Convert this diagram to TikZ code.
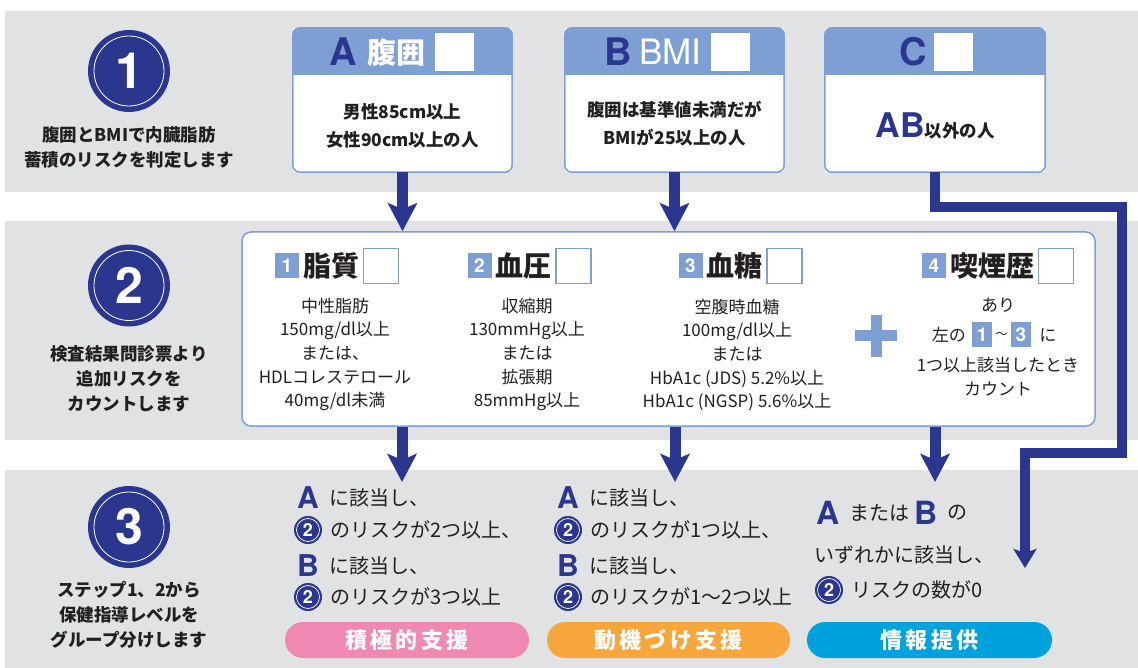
\documentclass[tikz,border=0pt]{standalone}
\usepackage{fontspec}
\setmainfont{Noto Sans CJK JP}
\newfontfamily\latfont{TeX Gyre Heros}
\usetikzlibrary{positioning,arrows.meta,calc}

\definecolor{navy}{HTML}{2B378F}
\definecolor{hdr}{HTML}{7E9FD4}
\definecolor{band}{HTML}{E1E2E4}
\definecolor{ink}{HTML}{231F20}
\definecolor{pinkbtn}{HTML}{F088B4}
\definecolor{orangebtn}{HTML}{F7A63C}
\definecolor{cyanbtn}{HTML}{00A2DE}

\begin{document}
\begin{tikzpicture}[
    x=1pt, y=-1pt,
    stepdot/.style={circle, fill=navy, minimum size=82pt, inner sep=0pt, text=white,
      font=\latfont\bfseries\fontsize{50}{50}\selectfont,
      path picture={\draw[white, line width=0.8pt] (path picture bounding box.center) circle (35pt);}},
    steptext/.style={align=center, inner sep=0pt, text=ink, font=\bfseries\fontsize{17.5}{25}\selectfont},
    card/.style={fill=white, minimum width=219pt, minimum height=144pt, inner sep=0pt},
    hdrletter/.style={inner sep=0pt, text=navy, font=\latfont\bfseries\fontsize{38}{38}\selectfont},
    hdrtext/.style={inner sep=0pt, text=white, font=\bfseries\fontsize{29}{29}\selectfont},
    hdrblank/.style={fill=white, minimum width=39pt, minimum height=38pt, inner sep=0pt},
    cardtext/.style={align=center, inner sep=0pt, text=ink, font=\bfseries\fontsize{17.5}{28}\selectfont},
    riskbox/.style={draw=hdr, line width=1.5pt, fill=white, rounded corners=9pt,
      minimum width=853pt, minimum height=194pt},
    numbadge/.style={fill=hdr, minimum width=24pt, minimum height=25pt, inner sep=0pt, text=white,
      font=\latfont\bfseries\fontsize{19}{19}\selectfont},
    smallbadge/.style={numbadge, minimum width=20pt},
    itemtitle/.style={inner sep=0pt, text=ink, font=\bfseries\fontsize{28}{28}\selectfont},
    blank/.style={draw=hdr, line width=1.5pt, fill=white, minimum size=35pt, inner sep=0pt},
    itembody/.style={align=center, inner sep=0pt, text=ink, font=\fontsize{17}{23.7}\selectfont},
    rowletter/.style={inner sep=0pt, text=navy, font=\latfont\bfseries\fontsize{30}{30}\selectfont},
    rowtext/.style={inner sep=0pt, text=ink, font=\fontsize{20}{24}\selectfont},
    twobadge/.style={circle, fill=navy, minimum size=28pt, inner sep=0pt, text=white,
      font=\latfont\bfseries\fontsize{18}{18}\selectfont,
      path picture={\draw[white, line width=0.7pt] (path picture bounding box.center) circle (11.5pt);}},
    pill/.style={rounded corners=18pt, minimum width=244pt, minimum height=36pt, inner sep=0pt, text=white,
      font=\bfseries\fontsize{22}{22}\selectfont\addfontfeature{LetterSpace=14}},
    flow/.style={navy, line width=11pt, -{Stealth[length=28pt, width=29pt, inset=6pt]}},
    route/.style={navy, line width=9.5pt, -{Stealth[length=19pt, width=23pt, inset=4pt]}}
  ]

  \useasboundingbox (0,0) rectangle (1138,668);

  % Grey bands
  \fill[band] (5,11) rectangle (1138,192);
  \fill[band] (5,221) rectangle (1138,440);
  \fill[band] (5,470) rectangle (1138,668);

  % Steps on the left
  \node[stepdot] (step1) at (129,71) {1};
  \node[steptext, below=14pt of step1] (step1txt) {腹囲とBMIで内臓脂肪\\蓄積のリスクを判定します};
  \node[stepdot] (step2) at (129,285.5) {2};
  \node[steptext, below=19pt of step2] (step2txt) {検査結果問診票より\\追加リスクを\\カウントします};
  \node[stepdot] (step3) at (129,527) {3};
  \node[steptext, below=13pt of step3] (step3txt) {ステップ1、2から\\保健指導レベルを\\グループ分けします};

  % Cards A, B, C
  \node[card] (cardA) at (402.5,100) {};
  \node[card] (cardB) at (674.5,100) {};
  \node[card, minimum width=220pt] (cardC) at (935,100) {};
  \foreach \c in {cardA,cardB,cardC}{
    \begin{scope}
      \clip[rounded corners=7pt] (\c.north west) rectangle (\c.south east);
      \fill[hdr] (\c.north west) rectangle ([yshift=-47pt]\c.north east);
    \end{scope}
    \draw[hdr, line width=1.5pt, rounded corners=7pt] (\c.north west) rectangle (\c.south east);
  }

  \node[hdrletter, anchor=west] (letA) at (329,52) {A};
  \node[hdrtext, right=10pt of letA] (titleA) {腹囲};
  \node[hdrblank, right=10pt of titleA] (blankA) {};

  \node[hdrletter, anchor=west] (letB) at (604,52) {B};
  \node[hdrtext, right=7pt of letB, font=\latfont\fontsize{35}{35}\selectfont] (titleB) {BMI};
  \node[hdrblank, right=9pt of titleB] (blankB) {};

  \node[hdrletter, anchor=west] (letC) at (899,52) {C};
  \node[hdrblank, right=7pt of letC] (blankC) {};

  \node[cardtext] (bodyA) at (402.5,126) {男性85cm以上\\女性90cm以上の人};
  \node[cardtext] (bodyB) at (674.5,124) {腹囲は基準値未満だが\\BMIが25以上の人};
  \node[cardtext] (bodyC) at (935,126) {\textcolor{navy}{\latfont\fontsize{34}{34}\selectfont AB}以外の人};

  % Risk box
  \node[riskbox] (risk) at (668.5,329) {};
  \foreach \n/\x/\t in {1/287/脂質, 2/479.5/血圧, 3/690.5/血糖, 4/934/喫煙歴}{
    \node[numbadge] (num\n) at (\x,266) {\n};
    \node[itemtitle, right=4pt of num\n] (title\n) {\t};
    \node[blank, right=3pt of title\n] (blank\n) {};
  }
  \node[itembody] (desc1) at (335,354.5) {中性脂肪\\150mg/dl以上\\または、\\HDLコレステロール\\40mg/dl未満};
  \node[itembody] (desc2) at (527,354.5) {収縮期\\130mmHg以上\\または\\拡張期\\85mmHg以上};
  \node[itembody] (desc3) at (737,355) {空腹時血糖\\100mg/dl以上\\または\\HbA1c (JDS) 5.2\%以上\\HbA1c (NGSP) 5.6\%以上};
  \draw[hdr, line width=11pt] (855,336) -- (897,336) (876,315) -- (876,357);
  \node[itembody] (desc4a) at (998,305) {あり};
  \node[itembody, anchor=east] (desc4l) at (966,335) {左の};
  \node[smallbadge, right=6pt of desc4l] (desc4n1) {1};
  \node[itembody, right=3pt of desc4n1, font=\fontsize{12}{12}\selectfont] (desc4t) {～};
  \node[smallbadge, right=3pt of desc4t] (desc4n3) {3};
  \node[itembody, right=8pt of desc4n3] (desc4r) {に};
  \node[itembody] (desc4b) at (998,365) {1つ以上該当したとき};
  \node[itembody] (desc4c) at (998,389) {カウント};

  % Level columns
  \foreach \col/\x/\na/\nb in {sek/297/2つ以上、/3つ以上, dou/557/1つ以上、/1～2つ以上}{
    \node[rowletter, anchor=west] (\col A) at (\x,498) {A};
    \node[rowtext, right=10pt of \col A] (\col Atxt) {に該当し、};
    \node[twobadge] (\col N1) at (\x+11,530) {2};
    \node[rowtext, right=8pt of \col N1] (\col N1txt) {のリスクが\na};
    \node[rowletter, anchor=west] (\col B) at (\x,566) {B};
    \node[rowtext, right=10pt of \col B] (\col Btxt) {に該当し、};
    \node[twobadge] (\col N2) at (\x+11,597) {2};
    \node[rowtext, right=8pt of \col N2] (\col N2txt) {のリスクが\nb};
  }
  \node[rowletter, anchor=west, font=\latfont\bfseries\fontsize{32}{32}\selectfont] (infA) at (816,513) {A};
  \node[rowtext, right=10pt of infA] (infOr) {または};
  \node[rowletter, right=4pt of infOr, font=\latfont\bfseries\fontsize{32}{32}\selectfont] (infB) {B};
  \node[rowtext, right=10pt of infB] (infNo) {の};
  \node[rowtext, anchor=west] (infAny) at (814,555) {いずれかに該当し、};
  \node[twobadge] (infN) at (829,590) {2};
  \node[rowtext, right=8pt of infN] (infZero) {リスクの数が0};

  \node[pill, fill=pinkbtn] (sekkyoku) at (407,640) {積極的支援};
  \node[pill, fill=orangebtn, minimum width=243pt] (douki) at (668.5,640) {動機づけ支援};
  \node[pill, fill=cyanbtn, minimum width=245pt] (jouhou) at (929.5,640) {情報提供};

  % Arrows
  \coordinate (inSek) at (402,482);
  \coordinate (inDou) at (675,482);
  \coordinate (inInf) at (935,482);
  \coordinate (railTop) at (1122,207);
  \coordinate (railBot) at (1025,453);
  \coordinate (inFree) at (1025,568);
  \draw[flow] (cardA.south) -- (cardA.south |- risk.north);
  \draw[flow] (cardB.south) -- (cardB.south |- risk.north);
  \draw[route] (cardC.south) |- (railTop) |- (railBot) -- (inFree);
  \draw[flow] (risk.south -| inSek) -- (inSek);
  \draw[flow] (risk.south -| inDou) -- (inDou);
  \draw[flow] (risk.south -| inInf) -- (inInf);

\end{tikzpicture}
\end{document}
